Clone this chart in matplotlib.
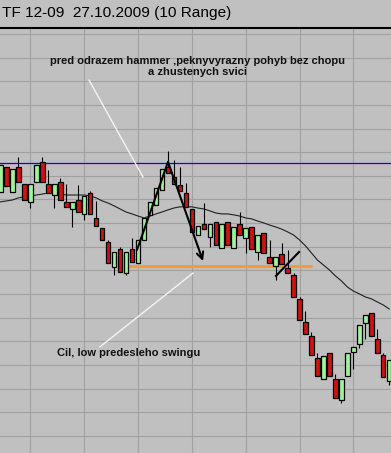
import matplotlib
matplotlib.use('Agg')
import matplotlib.pyplot as plt
from matplotlib.lines import Line2D
import numpy as np

# ---------------- data (TF 12-09, 10 range bars) ----------------
opens = [593.32, 594.38, 593.32, 594.38, 593.66, 592.90, 593.74, 594.59, 593.66, 593.19,
         593.74, 592.90, 592.60, 592.98, 592.39, 593.28, 592.22, 591.80, 591.21, 590.15,
         590.91, 589.89, 590.91, 590.32, 591.29, 592.35, 592.77, 593.40, 594.38, 593.95,
         593.62, 593.28, 592.60, 591.50, 591.97, 591.42, 592.05, 590.95, 592.05, 590.95,
         591.97, 591.37, 591.84, 590.78, 591.59, 590.57, 590.19, 590.70, 590.11, 589.81,
         588.80, 587.82, 587.23, 586.30, 585.41, 586.51, 585.41, 584.52, 585.54, 586.55,
         586.89, 587.78, 588.20, 587.10, 586.43, 585.33]
closes = [594.46, 593.57, 594.29, 593.74, 592.98, 593.66, 594.46, 593.74, 593.28, 593.66,
          592.98, 592.69, 592.90, 592.47, 593.15, 592.39, 591.88, 591.29, 590.32, 590.78,
          589.94, 590.78, 590.36, 591.29, 592.22, 592.90, 593.49, 594.29, 594.12, 593.66,
          593.36, 592.69, 591.63, 591.88, 591.75, 591.97, 591.08, 591.97, 591.08, 591.84,
          591.50, 591.80, 590.91, 591.50, 590.74, 590.32, 590.57, 590.27, 589.89, 588.88,
          587.91, 587.32, 586.43, 585.54, 586.39, 585.54, 584.61, 585.41, 586.51, 586.77,
          587.70, 588.12, 587.23, 586.51, 585.50, 586.22]
highs = [594.46, 594.38, 594.29, 594.80, 593.66, 593.66, 594.46, 594.80, 594.25, 593.66,
         593.91, 593.66, 592.90, 593.62, 593.15, 593.36, 592.94, 591.80, 591.29, 590.78,
         590.99, 590.78, 591.37, 591.29, 592.22, 592.90, 593.49, 594.29, 595.05, 594.67,
         594.38, 593.70, 592.60, 591.88, 592.85, 591.97, 592.05, 591.97, 592.05, 591.84,
         592.47, 591.80, 591.84, 591.50, 591.59, 591.29, 590.57, 591.16, 590.87, 589.89,
         588.88, 588.29, 587.40, 586.51, 586.39, 586.51, 585.62, 585.41, 586.51, 586.77,
         587.70, 588.12, 588.20, 587.53, 586.51, 586.22]
lows = [593.32, 593.57, 593.32, 593.74, 592.98, 592.64, 593.74, 593.74, 593.28, 592.64,
        592.98, 592.69, 591.84, 592.47, 592.14, 592.39, 591.88, 591.29, 590.32, 589.81,
        589.94, 589.81, 590.36, 590.32, 591.29, 592.35, 592.77, 593.40, 594.12, 593.66,
        593.36, 592.69, 591.63, 591.50, 591.75, 590.99, 591.08, 590.95, 591.08, 590.95,
        591.50, 590.74, 590.91, 590.44, 590.74, 590.32, 589.60, 590.27, 589.89, 588.88,
        587.91, 587.32, 586.43, 585.54, 585.41, 585.54, 584.61, 584.40, 585.54, 585.84,
        586.72, 587.10, 587.23, 586.51, 585.50, 585.16]
ma = [592.90, 592.94, 592.98, 593.07, 593.11, 593.15, 593.19, 593.23, 593.28, 593.28,
      593.23, 593.19, 593.19, 593.19, 593.19, 593.15, 593.07, 592.94, 592.85, 592.73,
      592.60, 592.47, 592.39, 592.30, 592.22, 592.30, 592.39, 592.47, 592.56, 592.64,
      592.69, 592.69, 592.69, 592.64, 592.60, 592.52, 592.43, 592.39, 592.39, 592.35,
      592.30, 592.22, 592.18, 592.09, 592.01, 591.92, 591.84, 591.75, 591.63, 591.50,
      591.29, 591.04, 590.74, 590.44, 590.23, 590.02, 589.77, 589.56, 589.30, 589.13,
      589.01, 588.88, 588.80, 588.67, 588.54, 588.37]

resistance_level = 594.55            # blue horizontal line
target_level = 590.19                # orange line (previous swing low)
target_span = [19.65, 52.1]          # bar index range of orange line
up_leg = [(22.83, 590.87), (28.01, 594.59)]
down_leg = [(28.01, 594.59), (33.86, 590.40)]
break_line = [(46.07, 589.77), (49.92, 590.78)]
pointer1 = [(14.8, 598.05), (23.83, 593.95)]
pointer2 = [(16.64, 586.77), (32.19, 589.89)]

title = "TF 12-09  27.10.2009 (10 Range)"
note1 = "pred odrazem hammer ,peknyvyrazny pohyb bez chopu\na zhustenych svici"
note2 = "Cil, low predesleho swingu"

# ---------------- figure ----------------
BG = '#c0c0c0'
fig = plt.figure(figsize=(3.91, 4.53), dpi=100)
fig.patch.set_facecolor(BG)
ax = fig.add_axes([0, 0, 1, (453 - 29) / 453])
ax.set_facecolor(BG)
ax.set_xlim(-0.084, 65.3)
ax.set_ylim(582.28, 600.21)
for s in ax.spines.values():
    s.set_visible(False)
n = len(opens)
x = np.arange(n)
ax.set_xticks(np.arange(5, n, 9))
ax.set_yticks(np.arange(583, 601, 1))
ax.tick_params(length=0, labelleft=False, labelbottom=False)
ax.grid(True, color='#a0a0a0', lw=0.8)
ax.set_axisbelow(True)

# separator line below title
fig.add_artist(Line2D([0, 1], [1 - 27.5 / 453] * 2, color='black', lw=1.5,
                      transform=fig.transFigure))
fig.text(2 / 391, 1 - 17.5 / 453, title, fontsize=11.1, family='Liberation Sans',
         va='baseline', ha='left', color='black')

# levels
ax.axhline(resistance_level, color='#0000ff', lw=0.9, zorder=2)
ax.plot(target_span, [target_level] * 2, color='#f79a3c', lw=2.2, zorder=2,
        solid_capstyle='butt')

# MA
ax.plot(x, ma, color='#202020', lw=0.8, zorder=3)

# candles
o = np.array(opens); c = np.array(closes)
up = c >= o
ax.vlines(x, lows, highs, color='black', lw=0.8, zorder=4)
ax.bar(x, np.abs(c - o), bottom=np.minimum(o, c), width=0.76,
       color=np.where(up, '#a0f2a0', '#cc1414'), edgecolor='black', lw=0.9, zorder=5)

# drawn trendlines
ax.plot(*zip(*up_leg), color='black', lw=1.5, zorder=6, solid_capstyle='round')
ax.annotate('', xy=down_leg[1], xytext=down_leg[0],
            arrowprops=dict(arrowstyle='->', lw=1.5, color='black', mutation_scale=12,
                            shrinkA=0, shrinkB=0), zorder=6)
ax.plot(*zip(*break_line), color='black', lw=1.5, zorder=6)

# pointer lines
ax.plot(*zip(*pointer1), color='#f4f4f4', lw=1.0, zorder=6)
ax.plot(*zip(*pointer2), color='#f4f4f4', lw=1.0, zorder=6)

ax.text(32.86, 598.64, note1, ha='center', va='center', fontsize=8, fontweight='bold',
        family='Liberation Sans', color='#111111', linespacing=1.15, zorder=7)
ax.text(9.45, 586.51, note2, ha='left', va='center', fontsize=8, fontweight='bold',
        family='Liberation Sans', color='#111111', zorder=7)

fig.savefig('out.png', dpi=100, facecolor=BG)
